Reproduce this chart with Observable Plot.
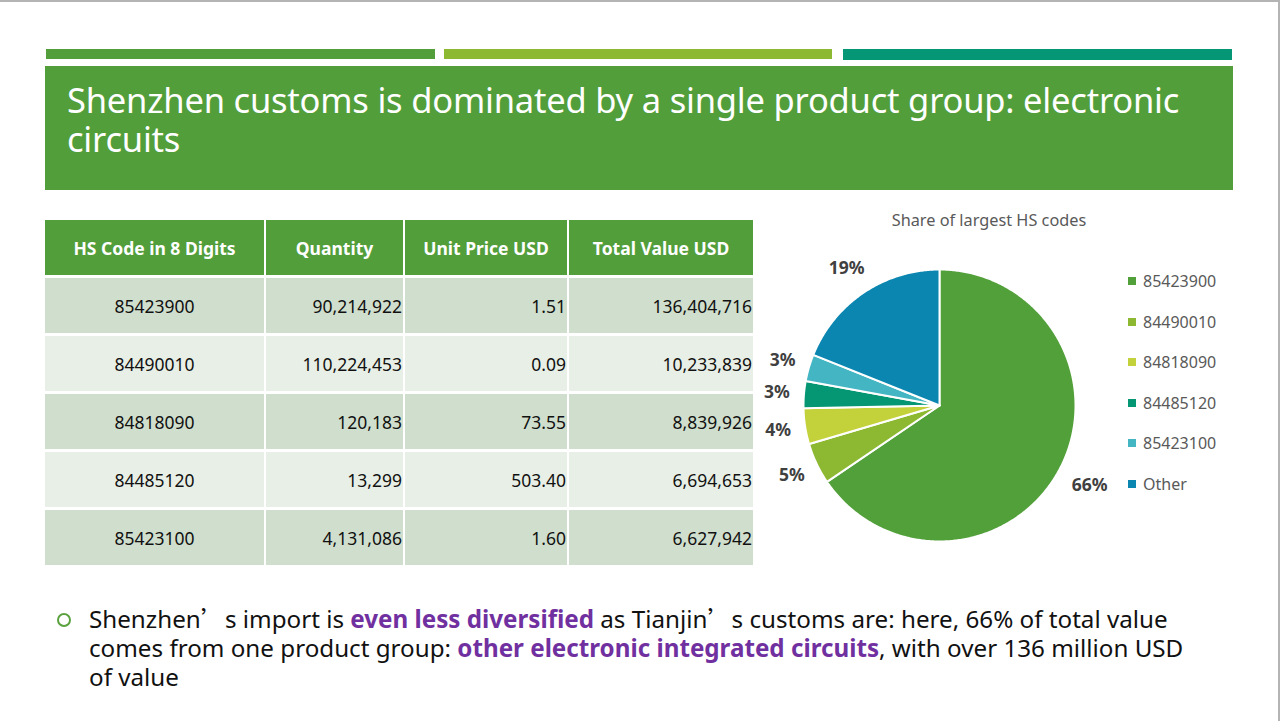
<!DOCTYPE html>
<html><head><meta charset="utf-8">
<script src="https://cdn.jsdelivr.net/npm/d3@7"></script>
<script src="https://cdn.jsdelivr.net/npm/@observablehq/plot@0.6"></script>
<style>
html,body{margin:0;padding:0;background:#fff;}
#slide{position:relative;width:1280px;height:721px;overflow:hidden;font-family:"Noto Sans",sans-serif;background:#fff;}
.frameTop{position:absolute;left:0;top:0;width:1280px;height:2px;background:#b4b4b4;}
.frameRight{position:absolute;left:1278px;top:0;width:2px;height:721px;background:#b4b4b4;}
.bar{position:absolute;top:49px;height:10px;}
#titleBox{position:absolute;left:45px;top:66px;width:1188px;height:124px;background:#529e3a;}
#title{position:absolute;left:22px;top:14px;color:#fff;font-size:34.5px;line-height:39px;white-space:nowrap;letter-spacing:-0.2px;}
#table{position:absolute;left:45px;top:220px;display:grid;grid-template-columns:219px 137px 162px 184px;grid-template-rows:55px repeat(5,55px);column-gap:2px;row-gap:3px;}
#table div{display:flex;align-items:center;font-size:17.5px;color:#111;}
#table .hd{background:#529e3a;color:#fff;font-weight:bold;justify-content:center;font-size:17.5px;}
#table .c0{justify-content:center;}
#table .cn{justify-content:flex-end;padding-right:1px;}
#table .odd{background:#d0dfcd;}
#table .even{background:#e8efe6;}
#pieTitle{position:absolute;left:839px;width:300px;top:209px;text-align:center;font-size:16.3px;color:#595959;}
#pie{position:absolute;left:759px;top:240px;}
#legend{position:absolute;left:1128px;top:271px;}
.li{position:absolute;left:0;height:20px;display:flex;align-items:center;font-size:16px;color:#595959;white-space:nowrap;}
.li span.sw{display:inline-block;width:8px;height:8px;margin-right:7px;}
#bullet{position:absolute;left:89px;top:603px;font-size:24.2px;line-height:29px;color:#111;white-space:nowrap;}
#bullet b{color:#7030a0;}
#bullet .q{font-family:"Noto Sans CJK SC";}
#dot{position:absolute;left:57px;top:613px;width:10px;height:10px;border:2.5px solid #5aa23e;border-radius:50%;}
</style>
</head><body>
<div id="slide">
  <div class="frameTop"></div><div class="frameRight"></div>
  <div class="bar" style="left:46px;width:389px;background:#529e3a"></div>
  <div class="bar" style="left:444px;width:388px;background:#8db832"></div>
  <div class="bar" style="left:843px;width:389px;background:#049675;height:11px"></div>
  <div id="titleBox"><div id="title">Shenzhen customs is dominated by a single product group: electronic<br>circuits</div></div>
  <div id="table"></div>
  <div id="pieTitle">Share of largest HS codes</div>
  <div id="pie"></div>
  <div id="legend"></div>
  <div id="dot"></div>
  <div id="bullet">Shenzhen<span class="q">’</span>s import is <b>even less diversified</b> as Tianjin<span class="q">’</span>s customs are: here, 66% of total value<br>comes from one product group: <b>other electronic integrated circuits</b>, with over 136 million USD<br>of value</div>
</div>
<script>
// ---- data ----
const headers = ["HS Code in 8 Digits", "Quantity", "Unit Price USD", "Total Value USD"];
const codes = ["85423900", "84490010", "84818090", "84485120", "85423100"];
const quantity = [90214922, 110224453, 120183, 13299, 4131086];
const unitPrice = [1.51, 0.09, 73.55, 503.40, 1.60];
const totalValue = [136404716, 10233839, 8839926, 6694653, 6627942];
const pieCategories = ["85423900", "84490010", "84818090", "84485120", "85423100", "Other"];
const pieValues = [136404716, 10233839, 8839926, 6694653, 6627942, 39400000];
const pieLabels = ["66%", "5%", "4%", "3%", "3%", "19%"];
const pieColors = ["#52a03a", "#8db832", "#c3d13a", "#059673", "#44b5c3", "#0a86b0"];

// ---- table ----
const fmtInt = d3.format(",");
const fmt2 = d3.format(".2f");
const table = document.getElementById("table");
headers.forEach(h => { const d = document.createElement("div"); d.className = "hd"; d.textContent = h; table.appendChild(d); });
codes.forEach((c, i) => {
  const cls = i % 2 === 0 ? "odd" : "even";
  [c, fmtInt(quantity[i]), fmt2(unitPrice[i]), fmtInt(totalValue[i])].forEach((v, j) => {
    const d = document.createElement("div");
    d.className = cls + (j === 0 ? " c0" : " cn");
    d.textContent = v;
    table.appendChild(d);
  });
});

// ---- pie ----
const arcs = d3.pie().sort(null).value(d => d)(pieValues);
const poly = [];
arcs.forEach((a, i) => {
  const key = pieCategories[i];
  poly.push({key, x: 0, y: 0});
  const n = Math.max(2, Math.ceil((a.endAngle - a.startAngle) / 0.01));
  for (let k = 0; k <= n; k++) {
    const t = a.startAngle + (a.endAngle - a.startAngle) * k / n;
    poly.push({key, x: Math.sin(t), y: Math.cos(t)});
  }
  poly.push({key, x: 0, y: 0});
});
const labelR = [1.25, 1.2, 1.2, 1.2, 1.2, 1.22];
const labels = arcs.map((a, i) => {
  const m = (a.startAngle + a.endAngle) / 2;
  return {text: pieLabels[i], x: Math.sin(m) * labelR[i], y: Math.cos(m) * labelR[i]};
});
const W = 360, H = 330, R = 136;
const pie = Plot.plot({
  width: W, height: H, margin: 0,
  x: {domain: [-W / 2 / R, W / 2 / R], axis: null},
  y: {domain: [-H / 2 / R, H / 2 / R], axis: null},
  color: {domain: pieCategories, range: pieColors},
  style: {background: "transparent", overflow: "visible"},
  marks: [
    Plot.line(poly, {x: "x", y: "y", z: "key", fill: "key", stroke: "white", strokeWidth: 2, strokeLinejoin: "round"}),
    Plot.text(labels, {x: "x", y: "y", text: "text", fontSize: 17.5, fontWeight: "bold", fill: "#404040", fontFamily: "Noto Sans"})
  ]
});
document.getElementById("pie").appendChild(pie);

// ---- legend ----
const legend = document.getElementById("legend");
pieCategories.forEach((c, i) => {
  const d = document.createElement("div");
  d.className = "li";
  d.style.top = (i * 40.6) + "px";
  d.innerHTML = `<span class="sw" style="background:${pieColors[i]}"></span>${c}`;
  legend.appendChild(d);
});
</script>
</body></html>
